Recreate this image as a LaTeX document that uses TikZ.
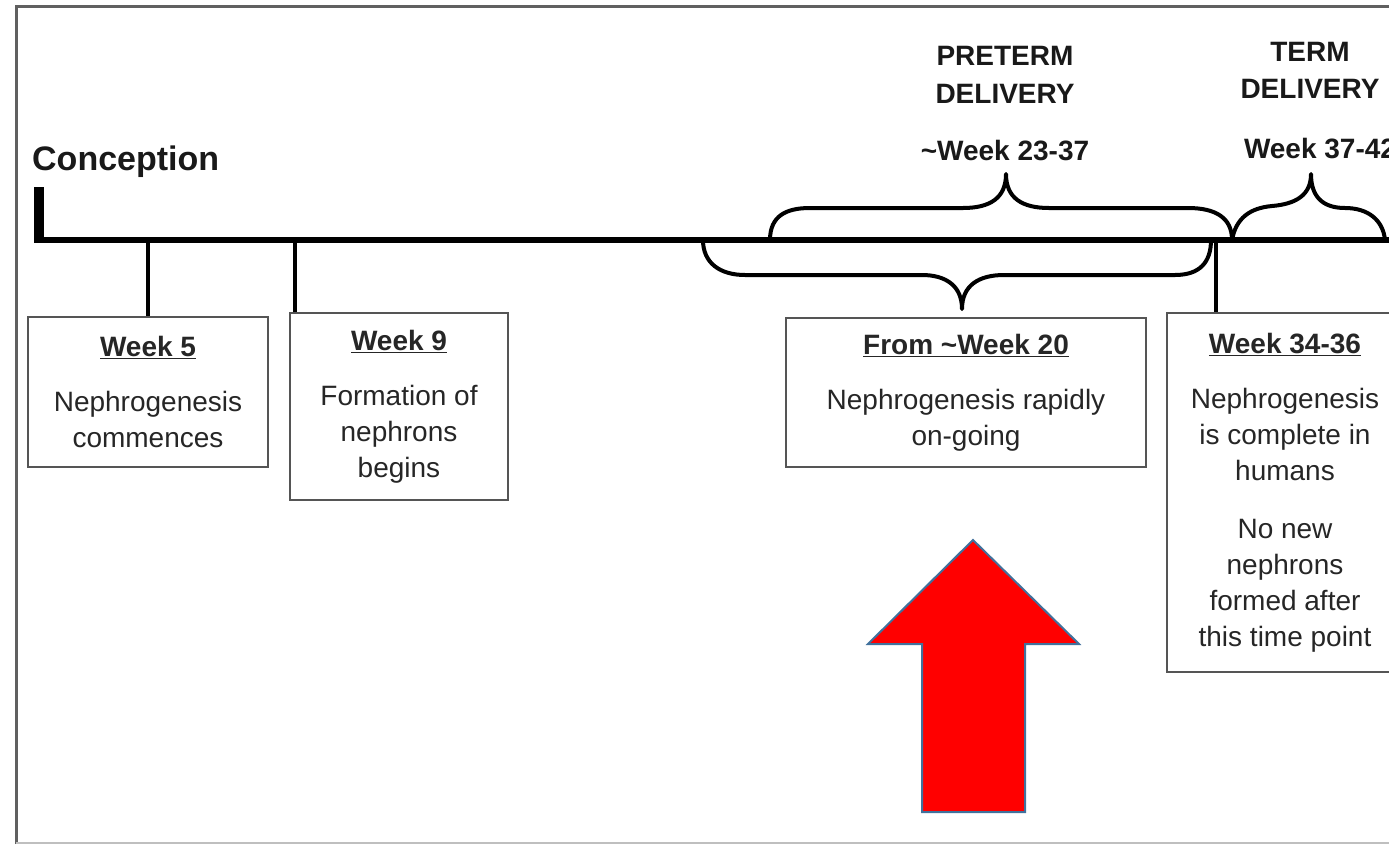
\documentclass[tikz,border=0pt]{standalone}
\usepackage{fontspec}
\setmainfont{Liberation Sans}
\definecolor{framecol}{HTML}{606060}
\definecolor{boxcol}{HTML}{555555}
\definecolor{arrowfill}{HTML}{FF0000}
\definecolor{arrowline}{HTML}{41719C}
\newcommand{\ttl}[1]{\textbf{\underline{#1}}}
\begin{document}
\begin{tikzpicture}[x=1pt,y=-1pt,
  stepbox/.style={draw=boxcol, line width=2, align=center, inner sep=0,
     font=\fontsize{28}{36}\selectfont, text=black!85},
  hdr/.style={font=\fontsize{28}{34}\bfseries\selectfont, anchor=base, inner sep=0, text=black!90},
  tick/.style={line width=4.5, black},
  brace/.style={line width=4, black, line join=round, line cap=round}]
\useasboundingbox (0,0) rectangle (1389,844);
\clip (0,0) rectangle (1389,844);
% frame
\draw[framecol, line width=3] (16,844) -- (16,6) -- (1400,6);
\draw[black!25, line width=2] (16,842.5) -- (1400,842.5);
% timeline
\coordinate (tl0) at (37,240);
\coordinate (tlend) at (1400,240);
\coordinate (cbtop) at (39,187);
\draw[line width=6, black] (tl0) -- (tlend);
\draw[line width=10, black] (cbtop) -- (39,243);
\node[anchor=base west, inner sep=0, font=\fontsize{34}{36}\bfseries\selectfont, text=black!90] (conc) at (32,170) {Conception};
% boxes
\node[stepbox, minimum width=240, minimum height=150] (w5) at (148,392)
  {\ttl{Week 5}\\[19pt]Nephrogenesis\\commences};
\node[stepbox, minimum width=218, minimum height=187] (w9) at (399,406.5)
  {\ttl{Week 9}\\[19pt]Formation of\\nephrons\\begins};
\node[stepbox, minimum width=360, minimum height=149] (w20) at (966,392.5)
  {\ttl{From \textasciitilde Week 20}\\[19pt]Nephrogenesis rapidly\\on-going};
\node[stepbox, minimum width=236, minimum height=359] (w34) at (1285,492.5)
  {\ttl{Week 34-36}\\[19pt]Nephrogenesis\\is complete in\\humans\\[22pt]No new\\nephrons\\formed after\\this time point};
% ticks
\coordinate (t5) at (148,240);
\coordinate (t9) at (295,240);
\coordinate (t34) at (1216,240);
\draw[tick] (t5) -- (t5 |- w5.north);
\draw[tick] (t9) -- (t9 |- w9.north);
\draw[tick] (t34) -- (t34 |- w34.north);
% braces
\coordinate (pretip) at (1006,174);
\coordinate (termtip) at (1311,174);
\coordinate (lowtip) at (962,309);
\draw[brace] (770,240) .. controls (770,216) and (786,208) .. (810,208) -- (963,208)
  .. controls (990,208) and (1006,198) .. (pretip) .. controls (1006,198) and (1022,208) .. (1049,208)
  -- (1188,208) .. controls (1216,208) and (1232,218) .. (1232,240);
\draw[brace] (1232,240) .. controls (1236,218) and (1250,208) .. (1272,206)
  .. controls (1296,204) and (1311,195) .. (termtip) .. controls (1311,196) and (1322,208) .. (1345,208)
  .. controls (1368,208) and (1383,220) .. (1385,240);
\draw[brace] (703,240) .. controls (703,263) and (720,275) .. (745,275) -- (922,275)
  .. controls (946,275) and (962,286) .. (lowtip) .. controls (962,286) and (978,275) .. (1004,275)
  -- (1175,275) .. controls (1200,275) and (1211,262) .. (1211,240);
% header texts
\node[hdr] (pre1) at (1005,65) {PRETERM};
\node[hdr] (pre2) at (1005,103) {DELIVERY};
\node[hdr] (pre3) at (1005,160) {\textasciitilde Week 23-37};
\node[hdr] (term1) at (1310,61) {TERM};
\node[hdr] (term2) at (1310,98) {DELIVERY};
\node[hdr] (term3) at (1320,158) {Week 37-42};
% red arrow
\draw[fill=arrowfill, draw=arrowline, line width=2, line join=miter]
  (973,540) -- (1079,644) -- (1025,644) -- (1025,812) -- (922,812) -- (922,644) -- (868,644) -- cycle;
\end{tikzpicture}
\end{document}
